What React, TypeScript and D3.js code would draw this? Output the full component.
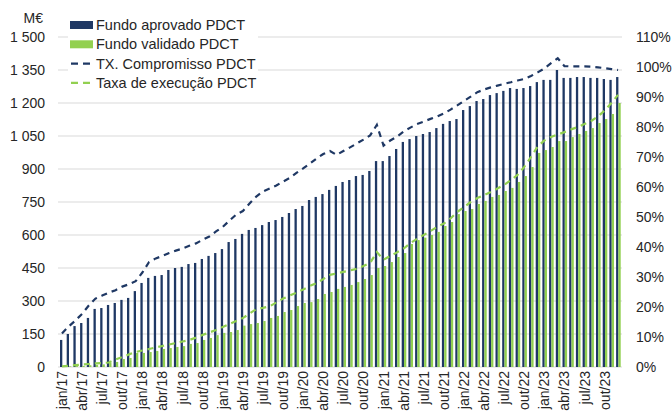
import React from 'react';
import * as d3 from 'd3';

// categories: monthly, jan/17 .. dez/23
const monthNames = ['jan', 'fev', 'mar', 'abr', 'mai', 'jun', 'jul', 'ago', 'set', 'out', 'nov', 'dez'];
const years = ['17', '18', '19', '20', '21', '22', '23'];
const months = years.flatMap((y) => monthNames.map((m) => `${m}/${y}`));

// M€
const fundoAprovado = [
  123, 150, 186, 200, 223, 264, 268, 282, 291, 305, 314, 345,
  382, 405, 414, 418, 441, 450, 455, 468, 473, 491, 505, 518,
  536, 568, 582, 605, 623, 632, 645, 659, 668, 682, 700, 718,
  732, 759, 773, 786, 805, 823, 841, 850, 868, 873, 891, 936,
  936, 959, 991, 1023, 1036, 1050, 1059, 1068, 1086, 1105, 1118, 1127,
  1168, 1186, 1209, 1218, 1236, 1245, 1255, 1268, 1264, 1268, 1277, 1295,
  1305, 1305, 1350, 1314, 1314, 1318, 1318, 1314, 1314, 1309, 1305, 1318,
];

const fundoValidado = [
  2, 3, 4, 5, 8, 10, 12, 18, 23, 36, 41, 64,
  64, 68, 73, 82, 86, 91, 95, 105, 109, 123, 132, 145,
  155, 159, 168, 188, 195, 200, 209, 223, 232, 250, 259, 277,
  291, 295, 309, 332, 341, 355, 364, 373, 386, 400, 418, 450,
  459, 477, 500, 518, 559, 577, 588, 600, 614, 641, 659, 695,
  709, 718, 741, 755, 773, 782, 800, 814, 841, 868, 909, 973,
  986, 1000, 1027, 1027, 1045, 1059, 1073, 1086, 1109, 1127, 1150, 1200,
];

// %
const txCompromisso = [
  11.2, 13.5, 15.5, 17.7, 20.5, 22.8, 23.8, 24.8, 25.6, 26.8, 27.6, 28.6,
  31.5, 35, 36.2, 37, 38, 38.8, 39.5, 40.4, 41.2, 42.4, 43.5, 45.2,
  46.7, 48.8, 50.8, 52, 54.5, 56.8, 58.5, 59.5, 60.5, 61.8, 63, 64.7,
  66.2, 67.8, 69.5, 71, 72, 70.7, 72, 73.2, 74.5, 75.8, 77.2, 80.7,
  73.8, 75.5, 76.8, 78.5, 79.8, 81, 81.8, 82.7, 83.5, 84.5, 85.8, 87.2,
  88.7, 90.1, 91.6, 92.5, 93.2, 93.8, 94.4, 94.9, 95.5, 96, 97, 98.2,
  99.5, 101.3, 102.9, 100.3, 100.2, 100.2, 100.2, 100.1, 99.9, 99.6, 99.3, 99,
];

const taxaExecucao = [
  0.2, 0.4, 0.6, 0.8, 1, 1.2, 1.3, 1.5, 2.5, 3.3, 4.2, 5,
  5.5, 6, 6.5, 7, 7.5, 8, 8.5, 9, 9.8, 10.7, 11.5, 12.3,
  13.3, 14.3, 15.3, 16.3, 17.8, 19.3, 19.7, 20.2, 21.5, 22.8, 23.8, 24.8,
  25.8, 27, 28, 29.3, 30.7, 31.2, 31.7, 32.2, 32.7, 33.7, 34.7, 38.3,
  35.8, 37, 38.2, 39.5, 41.3, 42.7, 44, 45.3, 46.7, 47.8, 49.5, 51.7,
  53.3, 55, 56.3, 57.3, 58.3, 59.5, 60.7, 62.3, 64, 66.7, 70, 73.5,
  75.5, 76.7, 77.5, 78.3, 79.2, 80, 81, 82, 83.5, 85.5, 88, 90.7,
];

const leftTicks = d3.range(0, 1501, 150);
const rightTicks = d3.range(0, 111, 10);
const xTickLabels = months.filter((m, i) => i % 3 === 0);

const legendItems = [
  { label: 'Fundo aprovado PDCT', kind: 'bar', color: '#1f3864' },
  { label: 'Fundo validado PDCT', kind: 'bar', color: '#92d050' },
  { label: 'TX. Compromisso PDCT', kind: 'line', color: '#1f3864' },
  { label: 'Taxa de execução PDCT', kind: 'line', color: '#92d050' },
];

const fmt = d3.formatLocale({ decimal: ',', thousands: ' ', grouping: [3], currency: ['', ''] }).format(',');

const FONT = 'Arial, "Liberation Sans", sans-serif';
const TEXT = '#262626';

export default function App() {
  const width = 672;
  const height = 414;
  const top = 37;
  const bottom = 367;

  const x = d3.scaleBand().domain(months).range([58.6, 621.4]).padding(0);
  const yL = d3.scaleLinear().domain([0, 1500]).range([bottom, top]);
  const yR = d3.scaleLinear().domain([0, 110]).range([bottom, top]);
  const step = x.bandwidth();
  const barW = 2.3;

  const line = d3.line<number>()
    .x((d, i) => (x(months[i]) as number) + step / 2)
    .y((d) => yR(d));

  return (
    <svg width={width} height={height} style={{ position: 'absolute', left: 0, top: 0 }} fontFamily={FONT}>
      <rect width={width} height={height} fill="#fff" />

      {/* gridlines */}
      {leftTicks.map((t) => (
        <line key={t} x1={58} x2={622} y1={yL(t)} y2={yL(t)} stroke="#d9d9d9" strokeWidth={1} />
      ))}

      {/* bars */}
      {fundoAprovado.map((v, i) => (
        <rect key={'a' + i} x={(x(months[i]) as number) + 1.4} y={yL(v)} width={barW}
          height={bottom - yL(v)} fill="#1f3864" />
      ))}
      {fundoValidado.map((v, i) => (
        <rect key={'v' + i} x={(x(months[i]) as number) + 1.4 + barW} y={yL(v)} width={barW}
          height={bottom - yL(v)} fill="#92d050" />
      ))}

      {/* lines */}
      <path d={line(txCompromisso) || ''} fill="none" stroke="#1f3864" strokeWidth={2.2} strokeDasharray="6,5" />
      <path d={line(taxaExecucao) || ''} fill="none" stroke="#92d050" strokeWidth={2.2} strokeDasharray="6,5" />

      {/* left axis */}
      <text x={43} y={18} textAnchor="end" dominantBaseline="central" fontSize={14} fill={TEXT}>M€</text>
      {leftTicks.map((t) => (
        <text key={t} x={45} y={yL(t)} textAnchor="end" dominantBaseline="central" fontSize={14} fill={TEXT}>
          {fmt(t)}
        </text>
      ))}

      {/* right axis */}
      {rightTicks.map((t) => (
        <text key={t} x={636} y={yR(t)} textAnchor="start" dominantBaseline="central" fontSize={14} fill={TEXT}>
          {t}%
        </text>
      ))}

      {/* x labels */}
      {xTickLabels.map((m) => (
        <text key={m} transform={`translate(${(x(m) as number) + step / 2},371) rotate(-90)`}
          textAnchor="end" dominantBaseline="central" fontSize={14} fill={TEXT}>
          {m}
        </text>
      ))}

      {/* legend */}
      <rect x={68} y={13} width={190} height={80} fill="#fff" />
      {legendItems.map((it, i) => {
        const cy = 25 + i * 19.3;
        return (
          <g key={it.label}>
            {it.kind === 'bar' ? (
              <rect x={70} y={cy - 4} width={23} height={8} fill={it.color} />
            ) : (
              <line x1={71} x2={91} y1={cy} y2={cy} stroke={it.color} strokeWidth={2.2} strokeDasharray="7,5" />
            )}
            <text x={96} y={cy} dominantBaseline="central" fontSize={14.5} fill={TEXT}>{it.label}</text>
          </g>
        );
      })}
    </svg>
  );
}
